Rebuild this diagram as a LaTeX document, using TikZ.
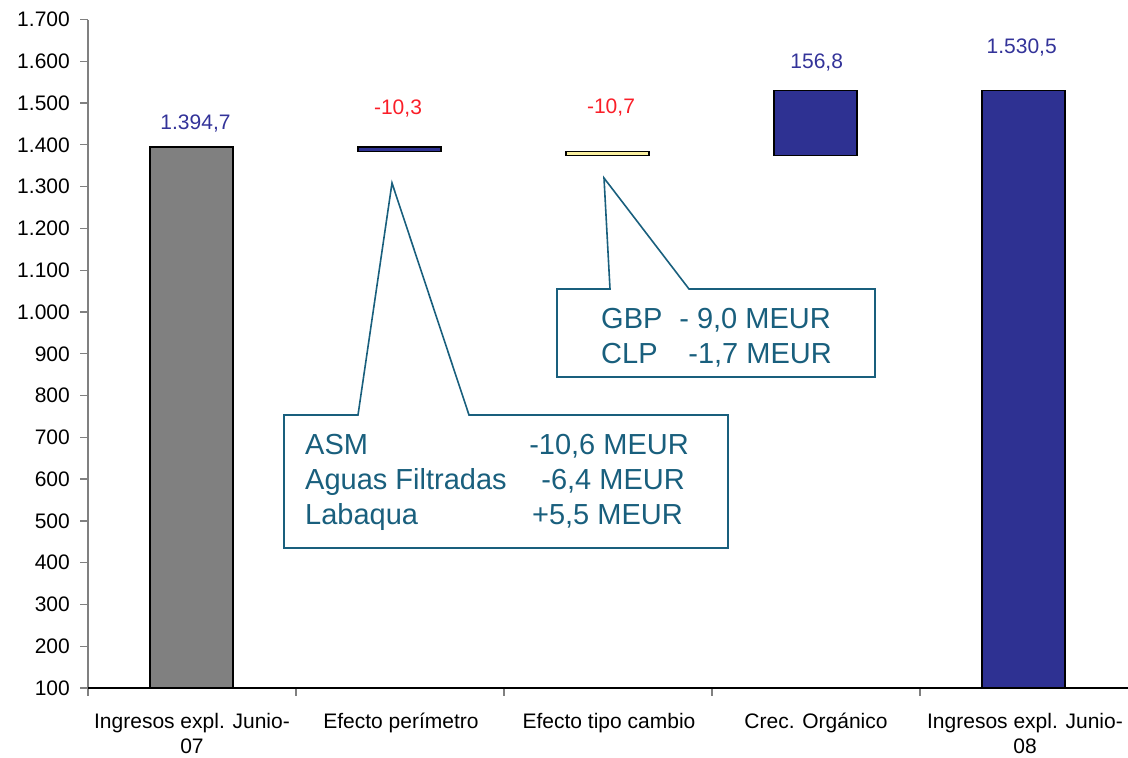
\documentclass[tikz,border=0pt]{standalone}
\usepackage{fontspec}
\setmainfont{Liberation Sans}
\definecolor{valblue}{RGB}{51,51,153}
\definecolor{barblue}{RGB}{46,49,146}
\definecolor{valred}{RGB}{250,30,40}
\definecolor{bargray}{RGB}{128,128,128}
\definecolor{baryellow}{RGB}{250,240,160}
\definecolor{noteteal}{RGB}{25,95,125}
\definecolor{axisgray}{RGB}{128,128,128}
\begin{document}
\begin{tikzpicture}[x=1pt,y=-1pt,
	bar/.style={draw=black,line width=1.3pt},
	axis/.style={line width=1.3pt},
	ylab/.style={anchor=east,inner sep=0pt,font=\fontsize{21}{25}\selectfont},
	cat/.style={anchor=base,inner sep=0pt,align=center,font=\fontsize{21}{25}\selectfont},
	val/.style={anchor=base,inner sep=0pt,font=\fontsize{21}{25}\selectfont},
	callout/.style={draw=noteteal,line width=1.6pt,line join=miter},
	note/.style={inner sep=0pt,text=noteteal,font=\fontsize{29}{35}\selectfont}]
	\useasboundingbox (0,0) rectangle (1128,758);
	\draw[bar,fill=bargray] (150,688) rectangle (233,147.06);
	\draw[bar,fill=barblue] (358,147.06) rectangle (441,151.37);
	\draw[bar,fill=baryellow] (566,151.37) rectangle (649,155.83);
	\draw[bar,fill=barblue] (774,90.32) rectangle (857,155.83);
	\draw[bar,fill=barblue] (982,90.32) rectangle (1065,688);
	\draw[axis,axisgray] (88,688) -- (88,19.5);
	\draw[axis,axisgray] (80,19.5) -- (88,19.5) (80,61.3) -- (88,61.3) (80,103.1) -- (88,103.1)
		(80,144.8) -- (88,144.8) (80,186.6) -- (88,186.6) (80,228.4) -- (88,228.4)
		(80,270.2) -- (88,270.2) (80,312) -- (88,312) (80,353.8) -- (88,353.8)
		(80,395.5) -- (88,395.5) (80,437.3) -- (88,437.3) (80,479.1) -- (88,479.1)
		(80,520.9) -- (88,520.9) (80,562.7) -- (88,562.7) (80,604.4) -- (88,604.4)
		(80,646.2) -- (88,646.2) (80,688) -- (88,688);
	\draw[axis,axisgray] (88,688) -- (88,696) (296,688) -- (296,696) (504,688) -- (504,696)
		(712,688) -- (712,696) (920,688) -- (920,696);
	\draw[axis,black] (88,688) -- (1128,688);
	\node[ylab] (y1700) at (70,19.5) {1.700};
	\node[ylab] (y1600) at (70,61.3) {1.600};
	\node[ylab] (y1500) at (70,103.1) {1.500};
	\node[ylab] (y1400) at (70,144.8) {1.400};
	\node[ylab] (y1300) at (70,186.6) {1.300};
	\node[ylab] (y1200) at (70,228.4) {1.200};
	\node[ylab] (y1100) at (70,270.2) {1.100};
	\node[ylab] (y1000) at (70,312) {1.000};
	\node[ylab] (y900) at (70,353.8) {900};
	\node[ylab] (y800) at (70,395.5) {800};
	\node[ylab] (y700) at (70,437.3) {700};
	\node[ylab] (y600) at (70,479.1) {600};
	\node[ylab] (y500) at (70,520.9) {500};
	\node[ylab] (y400) at (70,562.7) {400};
	\node[ylab] (y300) at (70,604.4) {300};
	\node[ylab] (y200) at (70,646.2) {200};
	\node[ylab] (y100) at (70,688) {100};
	\node[cat] (junio07) at (192,753) {Ingresos expl. Junio-\\07};
	\node[cat] (perimetro) at (401,728) {Efecto perímetro};
	\node[cat] (cambio) at (609,728) {Efecto tipo cambio};
	\node[cat] (organico) at (816,728) {Crec. Orgánico};
	\node[cat] (junio08) at (1025,753) {Ingresos expl. Junio-\\08};
	\node[val,text=valblue] (val1) at (195.5,129.5) {1.394,7};
	\node[val,text=valred] (val2) at (398,114.5) {-10,3};
	\node[val,text=valred] (val3) at (611,113) {-10,7};
	\node[val,text=valblue] (val4) at (816.7,68.3) {156,8};
	\node[val,text=valblue] (val5) at (1021.7,53.3) {1.530,5};
	\draw[callout] (284,415) -- (358,415) -- (392,183) -- (469,415) -- (728,415) -- (728,548) -- (284,548) -- cycle;
	\draw[callout] (557,289) -- (610,289) -- (604,178) -- (689,289) -- (875,289) -- (875,377) -- (557,377) -- cycle;
	\node[note,anchor=base west] (asm) at (305,454) {ASM};
	\node[note,anchor=base east] (asmval) at (689,454) {-10,6 MEUR};
	\node[note,anchor=base west] (aguas) at (305,489) {Aguas Filtradas};
	\node[note,anchor=base east] (aguasval) at (685,489) {-6,4 MEUR};
	\node[note,anchor=base west] (labaqua) at (305,524) {Labaqua};
	\node[note,anchor=base east] (labaquaval) at (683,524) {+5,5 MEUR};
	\node[note,anchor=base west] (gbp) at (601,328) {GBP};
	\node[note,anchor=base east] (gbpval) at (831,328) {- 9,0 MEUR};
	\node[note,anchor=base west] (clp) at (601,363) {CLP};
	\node[note,anchor=base east] (clpval) at (832,363) {-1,7 MEUR};
\end{tikzpicture}
\end{document}
